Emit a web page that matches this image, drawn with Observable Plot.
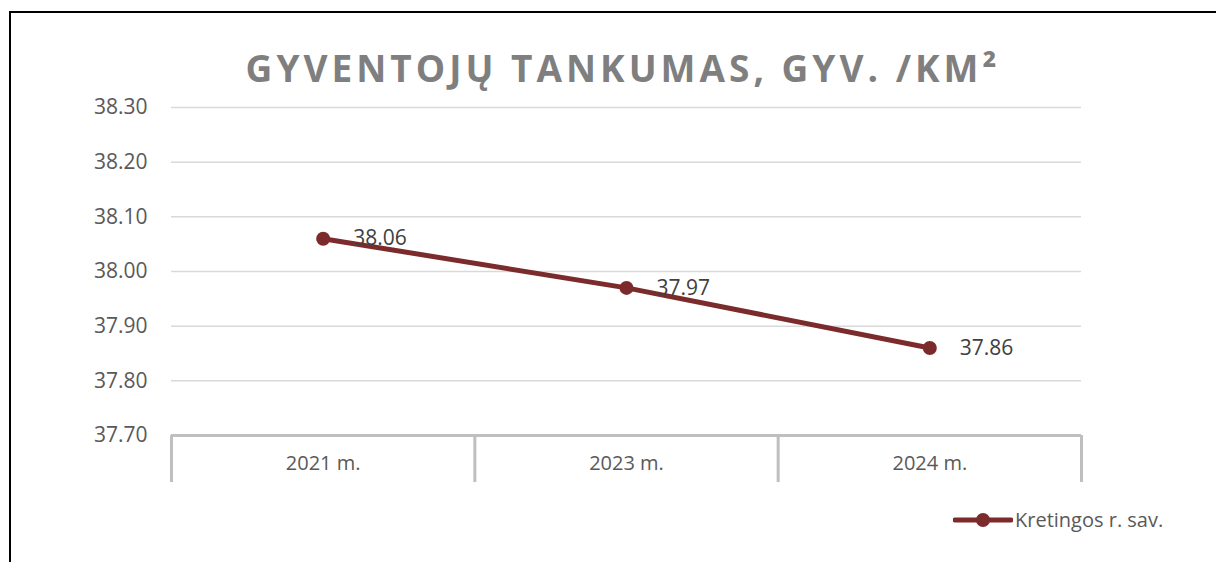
<!DOCTYPE html>
<html>
<head>
<meta charset="utf-8">
<script src="https://cdn.jsdelivr.net/npm/d3@7"></script>
<script src="https://cdn.jsdelivr.net/npm/@observablehq/plot@0.6"></script>
<style>
  html, body { margin: 0; padding: 0; background: #fff; }
  #wrap { position: relative; width: 1216px; height: 562px; overflow: hidden; font-family: "Open Sans", sans-serif; }
  #frame { position: absolute; left: 9px; top: 11px; width: 1300px; height: 700px; border-left: 2px solid #000; border-top: 2px solid #000; box-sizing: border-box; }
  #title { position: absolute; left: 0; width: 1246px; top: 49px; text-align: center; font-weight: 700; font-size: 37px; letter-spacing: 4px; color: #7f7f7f; line-height: 1; }
  #chart { position: absolute; left: 0; top: 0; }
  #legend { position: absolute; left: 953px; top: 506px; display: flex; align-items: center; font-size: 20px; color: #595959; }
</style>
</head>
<body>
<div id="wrap">
  <div id="frame"></div>
  <div id="chart"></div>
  <div id="title"></div>
  <div id="legend"></div>
</div>
<script>
const title = "GYVENTOJŲ TANKUMAS, GYV. /KM²";
const seriesName = "Kretingos r. sav.";
const categories = ["2021 m.", "2023 m.", "2024 m."];
const values = [38.06, 37.97, 37.86];
const yTicks = [37.7, 37.8, 37.9, 38.0, 38.1, 38.2, 38.3];

const lineColor = "#7b2b2b";
const data = categories.map((c, i) => ({i, c, v: values[i]}));
const centers = categories.map((_, i) => i);
const boundaries = [...centers.map(i => i - 0.5), categories.length - 0.5];

document.getElementById("title").textContent = title;

const plot = Plot.plot({
  width: 1216,
  height: 562,
  marginLeft: 171,
  marginRight: 135,
  marginTop: 107,
  marginBottom: 127,
  style: {fontFamily: "'Open Sans', sans-serif", fontSize: "20px", color: "#595959", background: "transparent", overflow: "visible"},
  x: {type: "linear", domain: [-0.5, categories.length - 0.5]},
  y: {domain: [37.7, 38.3]},
  marks: [
    Plot.gridY(yTicks.slice(1), {stroke: "#d9d9d9", strokeOpacity: 1, strokeWidth: 1.5}),
    Plot.axisY({ticks: yTicks, tickSize: 0, tickPadding: 24, tickFormat: d3.format(".2f"), label: null, fill: "#595959", fontSize: 21}),
    Plot.axisX({ticks: boundaries, tickSize: 47, tickFormat: () => "", stroke: "#bfbfbf", strokeWidth: 3, strokeOpacity: 1, label: null}),
    Plot.axisX({ticks: centers, tickSize: 0, tickPadding: 20, tickFormat: i => categories[i], label: null, fill: "#595959", fontSize: 20}),
    Plot.ruleY([37.7], {stroke: "#bfbfbf", strokeWidth: 3}),
    Plot.line(data, {x: "i", y: "v", stroke: lineColor, strokeWidth: 5}),
    Plot.dot(data, {x: "i", y: "v", r: 7, fill: lineColor, stroke: "none"}),
    Plot.text(data, {x: "i", y: "v", text: d => d3.format(".2f")(d.v), dx: 30, textAnchor: "start", fill: "#404040", fontSize: 21})
  ]
});
document.getElementById("chart").appendChild(plot);

const legend = document.getElementById("legend");
legend.innerHTML = `<svg width="60" height="20" style="margin-right:2px"><line x1="2" y1="10" x2="58" y2="10" stroke="${lineColor}" stroke-width="5" stroke-linecap="round"/><circle cx="30" cy="10" r="7" fill="${lineColor}"/></svg><span></span>`;
legend.querySelector("span").textContent = seriesName;
</script>
</body>
</html>
